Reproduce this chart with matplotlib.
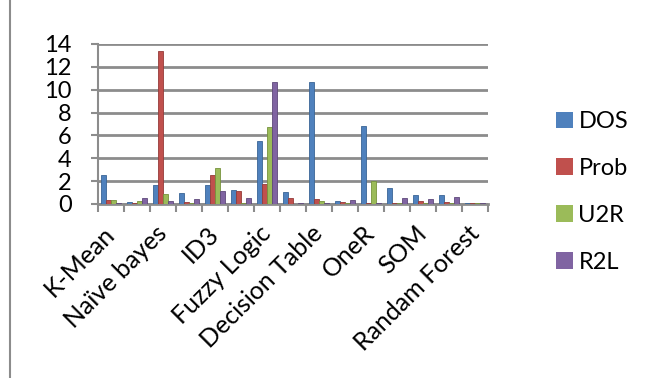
import matplotlib
matplotlib.use("Agg")
import matplotlib.pyplot as plt
from matplotlib.lines import Line2D
from matplotlib.patches import Patch
import numpy as np

plt.rcParams['font.family'] = ['Lato', 'DejaVu Sans']

# 15 classifier runs; only every other category carries a visible name
labels = ["K-Mean", "", "Naïve bayes", "", "ID3", "", "Fuzzy Logic", "",
          "Decision Table", "", "OneR", "", "SOM", "", "Randam Forest"]

dos  = [2.5, 0.15, 1.7, 1.0, 1.7, 1.2, 5.5, 1.05, 10.7, 0.25, 6.8, 1.4, 0.8, 0.8, 0.05]
prob = [0.35, 0.1, 13.35, 0.2, 2.5, 1.1, 1.75, 0.5, 0.4, 0.15, 0.05, 0.05, 0.3, 0.2, 0.05]
u2r  = [0.35, 0.25, 0.9, 0.1, 3.15, 0.05, 6.7, 0.02, 0.3, 0.1, 2.0, 0.05, 0.1, 0.1, 0.05]
r2l  = [0.1, 0.55, 0.3, 0.45, 1.1, 0.5, 10.7, 0.05, 0.1, 0.35, 0.05, 0.5, 0.4, 0.6, 0.05]

series = {"DOS": dos, "Prob": prob, "U2R": u2r, "R2L": r2l}
colors = {"DOS": "#4F81BD", "Prob": "#C0504D", "U2R": "#9BBB59", "R2L": "#8064A2"}
edges = {"DOS": "#3A6596", "Prob": "#953B39", "U2R": "#76923C", "R2L": "#5F497A"}

fig = plt.figure(figsize=(6.45, 3.78), dpi=100)
ax = fig.add_axes([98 / 645, 1 - 204 / 378, 390 / 645, 160 / 378])

n = len(labels)
x = np.arange(n)
w = 0.2
for i, (name, vals) in enumerate(series.items()):
    ax.bar(x + (i - 1.5) * w, vals, width=w, color=colors[name],
           edgecolor=edges[name], linewidth=0.6, zorder=3)

ax.set_xlim(-0.5, n - 0.5)
ax.set_ylim(0, 14)
ax.set_yticks(np.arange(0, 15, 2))
ax.yaxis.grid(True, color="#8C8C8C", linewidth=2.0, zorder=0)
ax.tick_params(axis="y", length=5, width=1.5, color="#8C8C8C", pad=14,
               labelsize=17)

# category boundaries carry the tick marks, names sit under alternate groups
ax.set_xticks(np.arange(-0.5, n, 1.0), minor=True)
ax.set_xticks([])
ax.tick_params(axis="x", which="minor", length=6, width=1.5, color="#8C8C8C")
for xi, lab in zip(x, labels):
    if lab:
        ax.text(xi - 0.3, -1.55, lab, rotation=45, ha="right", va="top",
                rotation_mode="anchor", fontsize=18, transform=ax.transData,
                clip_on=False)

for s in ("top", "right"):
    ax.spines[s].set_visible(False)
ax.spines["left"].set_color("#8C8C8C")
ax.spines["left"].set_linewidth(1.5)
ax.spines["bottom"].set_color("#8C8C8C")
ax.spines["bottom"].set_linewidth(2.0)

handles = [Patch(facecolor=colors[k], edgecolor="none") for k in series]
fig.legend(handles, list(series.keys()), loc="center left",
           bbox_to_anchor=(556 / 645, 1 - 192 / 378), frameon=False,
           borderpad=0, borderaxespad=0, fontsize=17, handlelength=0.7,
           handleheight=0.7, handletextpad=0.25, labelspacing=1.1)

# chart-area frame edge
fig.add_artist(Line2D([10 / 645, 10 / 645], [0, 1], color="#8C8C8C",
                      linewidth=1.5, transform=fig.transFigure))

fig.savefig("out.png", dpi=100)
